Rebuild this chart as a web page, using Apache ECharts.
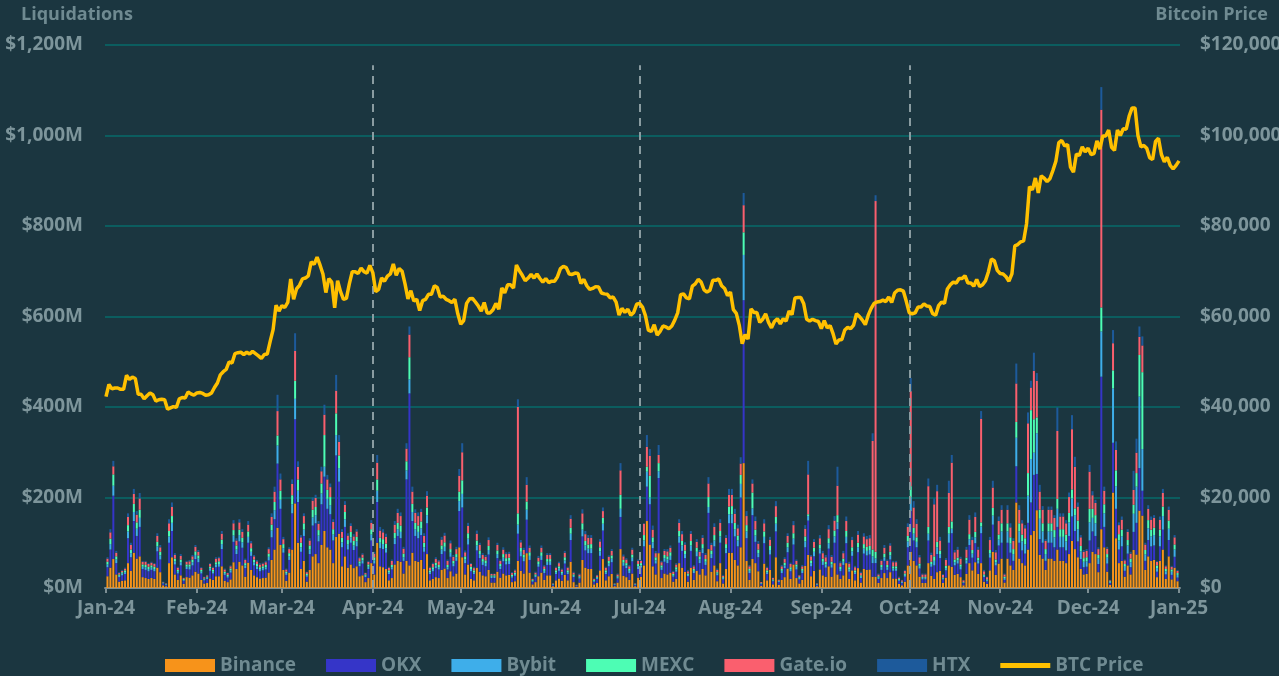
<!DOCTYPE html>
<html><head><meta charset="utf-8">
<script src="https://cdn.jsdelivr.net/npm/echarts@6/dist/echarts.min.js"></script>
<style>html,body{margin:0;padding:0;background:#1b3640;}#c{width:1279px;height:676px;}</style>
</head><body><div id="c"></div>
<script>
const monthNames = ['Jan','Feb','Mar','Apr','May','Jun','Jul','Aug','Sep','Oct','Nov','Dec'];
const seriesNames = ['Binance','OKX','Bybit','MEXC','Gate.io','HTX','BTC Price'];
// daily liquidations, $M, Jan 1 2024 .. Dec 31 2024
const binance = [
26,45,64,30,14,16,17,55,38,78,65,70,24,22,20,22,20,45,35,6,4,55,68,30,18,28,9,24,23,28,36,
32,18,10,11,21,18,26,26,48,16,13,19,57,42,58,50,25,56,40,28,24,21,22,23,34,62,85,133,95,
40,16,34,85,187,100,42,60,14,40,70,75,55,95,126,90,85,55,113,120,48,70,45,52,44,48,26,28,13,22,55,
30,100,48,46,42,17,22,52,60,58,32,60,50,78,60,58,62,42,75,17,20,24,22,40,43,22,37,26,32,90,
68,30,52,20,17,45,36,28,26,40,12,12,36,23,32,28,29,13,15,60,38,32,77,34,8,13,26,34,18,28,28,
4,17,21,16,29,17,58,13,3,12,62,45,42,42,8,11,39,64,17,26,31,4,12,86,27,24,18,32,4,23,
25,50,148,96,48,30,77,22,32,30,34,14,20,55,45,36,14,45,18,38,30,42,28,86,36,50,15,55,10,42,78,
78,62,50,90,276,60,18,64,55,37,5,54,17,40,8,68,7,18,24,43,20,52,22,10,18,49,73,26,38,4,41,
28,25,48,25,55,30,20,28,55,20,39,17,44,12,42,40,41,25,25,11,22,33,22,35,21,21,9,6,14,50,
80,60,50,25,11,11,55,27,20,35,38,11,23,50,47,29,31,24,6,31,55,39,57,31,55,14,9,39,80,29,54,
65,12,65,50,40,189,65,55,50,85,117,126,172,73,65,40,65,65,60,85,60,60,55,75,104,86,68,42,30,31,
55,80,75,35,130,90,36,7,211,110,55,60,25,50,30,84,74,171,160,40,70,60,62,24,60,85,20,70,19,45,15];
const okx = [
20,40,140,25,10,12,14,55,30,70,50,65,18,18,17,18,17,36,28,4,3,45,58,22,14,22,7,18,18,22,28,
25,14,7,9,17,14,20,21,38,13,10,15,45,33,45,39,19,44,31,22,18,16,17,18,27,50,67,142,80,
38,13,28,80,186,90,38,55,11,35,68,68,48,90,120,85,78,50,180,115,42,65,40,48,40,44,22,26,11,20,50,
24,90,40,40,36,14,19,45,55,52,28,180,380,70,55,52,55,38,68,14,17,20,19,35,38,19,32,22,28,80,
110,25,44,17,14,38,30,23,22,34,10,10,30,19,27,24,24,10,12,60,32,27,74,28,6,11,21,28,15,23,23,
3,14,17,13,25,14,48,11,2,9,52,38,35,35,6,9,32,63,14,22,26,3,9,71,22,20,15,27,3,19,
20,42,76,89,40,24,166,18,26,25,28,11,16,45,37,30,12,37,15,32,25,35,23,80,30,42,13,45,9,35,65,
65,52,42,110,360,50,15,97,47,31,4,45,14,34,7,57,6,15,20,36,17,44,19,9,15,41,76,22,32,3,35,
23,20,39,20,45,100,17,23,44,16,32,14,35,10,34,32,33,30,30,9,18,27,18,28,17,17,7,5,11,40,
90,45,40,18,8,8,50,20,30,40,28,8,16,50,74,21,23,17,5,23,40,28,42,23,66,10,6,28,60,21,40,
35,6,35,28,20,80,35,28,26,59,72,124,80,35,35,20,35,35,30,50,30,30,28,40,54,40,35,22,16,16,
50,45,40,18,337,45,18,4,110,65,30,32,13,26,16,40,70,94,55,20,36,32,32,12,32,44,10,36,10,24,8];
const bybit = [
6,12,22,8,3,4,4,15,9,20,16,20,5,6,5,5,5,11,9,1,1,14,18,7,4,7,2,5,6,7,9,
8,4,2,3,5,4,6,6,11,4,3,5,14,10,14,12,6,13,9,7,6,5,5,5,8,15,20,40,20,
10,4,8,20,45,25,10,14,3,10,18,18,13,24,22,22,20,13,45,30,11,17,11,12,10,11,6,7,3,5,13,
7,25,12,11,10,4,5,13,15,14,8,20,31,20,15,14,15,10,18,4,5,6,5,10,10,5,9,6,8,22,
30,8,13,5,4,11,9,7,7,10,3,3,9,6,8,7,7,3,4,20,10,8,22,9,2,3,6,9,5,7,7,
1,4,5,4,7,4,14,3,1,3,15,11,10,10,2,2,10,15,4,6,8,1,3,18,7,6,5,8,1,6,
5,13,33,15,13,7,15,5,8,8,9,3,5,14,12,9,3,12,5,10,8,11,7,13,9,13,4,14,3,11,20,
20,16,13,30,100,15,5,15,14,9,1,14,4,10,2,17,2,5,6,11,5,13,6,3,5,13,10,7,10,1,11,
7,7,12,7,14,15,5,7,14,5,10,4,11,3,11,10,10,15,10,3,6,8,6,9,5,5,2,2,4,13,
30,15,12,6,3,3,15,6,10,15,9,2,5,20,10,7,7,6,1,7,13,9,13,7,15,3,2,9,20,7,13,
25,4,25,20,15,63,25,20,20,60,96,49,90,45,25,15,25,25,22,40,23,23,20,30,40,35,27,17,12,12,
40,30,28,12,100,30,13,2,120,50,20,22,9,18,11,40,80,158,92,14,26,22,23,8,22,30,7,25,7,16,6];
const mexc = [
6,12,25,7,3,3,4,14,8,18,14,18,5,5,5,5,5,10,8,1,1,12,15,6,4,6,2,5,5,6,8,
7,4,2,2,4,4,5,6,10,3,3,4,12,9,12,10,5,12,8,6,5,4,4,5,7,13,18,22,20,
9,3,7,20,40,25,10,14,3,9,17,18,12,22,70,20,18,12,48,28,10,16,10,12,10,10,5,6,3,5,12,
7,25,11,11,10,4,5,12,14,14,8,20,49,18,14,14,15,10,17,4,4,6,5,9,10,5,8,6,7,21,
30,7,12,5,4,11,8,6,6,9,3,3,8,5,8,7,7,3,3,25,9,7,18,8,2,3,6,8,4,6,6,
1,4,5,3,7,4,13,3,0,2,14,10,9,10,2,2,9,13,4,6,7,1,2,31,6,5,4,7,1,5,
5,12,11,48,11,7,18,5,7,7,8,3,5,12,10,8,3,10,4,9,7,9,6,22,8,12,3,12,2,9,17,
18,14,11,20,50,14,4,35,13,8,1,12,4,9,2,15,1,4,6,10,4,12,5,2,4,11,4,6,9,1,9,
7,6,11,6,13,16,5,7,13,5,9,4,10,3,10,9,9,15,15,3,5,8,5,8,5,5,2,1,3,12,
25,13,10,5,2,2,15,5,10,12,8,2,5,15,16,6,6,5,1,6,11,8,12,6,9,3,2,8,17,6,11,
18,3,18,14,11,35,18,15,14,50,108,74,35,20,18,11,18,18,16,22,17,17,15,21,20,15,19,12,8,9,
30,20,18,8,53,20,8,2,40,35,14,15,6,12,8,20,30,92,170,10,18,15,16,6,15,21,5,18,5,11,4];
const gateio = [
7,14,18,8,3,3,4,18,10,22,17,25,6,7,6,6,6,13,10,1,1,17,20,8,5,8,2,6,7,7,10,
8,4,3,3,6,5,8,7,13,5,4,5,15,11,16,13,7,15,11,7,6,6,6,6,10,17,23,54,25,
11,5,9,25,66,28,12,16,4,11,20,20,14,27,45,23,22,16,50,30,13,16,10,13,10,12,7,7,3,6,14,
8,37,16,15,15,6,9,18,22,21,11,28,50,27,22,21,21,15,26,6,7,8,8,13,15,9,13,9,11,35,
62,9,16,6,5,15,12,9,8,13,3,3,12,7,10,9,9,4,5,235,12,10,37,10,2,4,8,10,6,9,9,
1,6,7,5,10,6,20,4,1,4,22,15,15,14,2,4,13,15,6,9,10,1,4,54,8,8,6,11,1,7,
5,25,44,44,17,9,18,7,9,11,10,5,6,18,15,13,5,16,6,13,10,14,9,30,12,18,5,18,3,14,26,
25,20,16,25,60,20,6,20,19,13,2,18,6,14,3,24,2,6,8,15,7,18,8,4,6,17,88,9,13,1,14,
12,10,20,11,22,65,8,12,22,8,16,7,18,5,17,17,17,240,775,4,9,13,9,14,9,9,3,3,6,20,
210,45,30,14,6,6,90,15,115,112,22,6,13,75,130,16,18,13,4,18,32,22,33,18,229,7,5,22,45,16,30,
30,5,30,22,18,85,30,25,22,110,50,107,81,40,30,18,30,30,27,150,28,28,25,35,133,92,31,19,14,14,
82,30,27,13,437,30,12,2,60,45,20,22,8,18,11,33,45,40,59,12,25,22,22,8,22,30,6,24,6,16,5];
const htx = [
3,7,12,4,2,2,2,8,5,11,8,12,2,2,2,2,2,6,5,1,0,9,10,4,2,4,1,2,3,3,4,
4,2,1,1,2,2,3,3,6,2,1,2,7,5,7,6,3,8,5,3,3,3,2,3,4,8,11,36,13,
5,2,4,10,39,12,5,6,1,5,7,7,6,10,22,10,8,6,35,15,6,8,5,6,5,5,3,3,1,2,6,
4,17,8,7,7,2,3,8,9,8,4,12,18,11,8,8,7,6,10,2,3,4,3,6,6,3,6,4,5,15,
20,4,7,2,3,7,5,4,4,6,1,1,5,3,5,4,4,2,2,17,5,5,17,5,1,2,4,5,3,4,4,
0,2,3,2,4,2,8,2,0,2,9,7,6,6,1,1,5,8,2,3,4,0,2,16,4,3,3,4,0,3,
2,1,26,15,9,5,22,3,4,5,5,2,3,8,7,5,3,6,3,6,4,6,4,14,5,8,3,8,2,6,13,
13,11,8,14,27,11,3,9,10,6,0,9,2,6,1,11,1,3,4,6,3,9,3,1,3,8,30,3,6,0,7,
5,5,9,4,10,42,4,5,10,4,7,3,8,3,7,7,7,17,13,2,3,6,3,5,3,3,2,1,2,8,
29,14,10,5,2,2,17,5,13,14,8,2,4,27,17,5,6,4,1,6,10,7,10,6,17,3,1,7,15,5,10,
10,2,10,9,6,44,10,7,7,24,15,40,17,15,8,4,7,7,6,52,7,7,7,10,31,22,9,5,4,4,
15,9,7,4,50,9,4,1,29,19,6,7,2,6,4,42,31,23,20,4,8,7,6,2,7,9,2,7,2,5,2];
// BTC daily price, $, Jan 1 2024 .. Jan 1 2025
const btcPrice = [
42300,45000,44000,44200,44200,43900,43900,47000,46100,46600,46300,42800,42800,41800,42500,43100,42700,41300,41600,41700,41600,39500,39800,40100,39900,41800,42100,42000,43300,42900,42600,
43100,43200,43000,42600,42700,43100,44300,45300,47100,47800,48300,50000,49700,51800,52000,52100,51600,52100,51700,52300,51800,51300,50700,51600,51700,54500,57100,62500,61200,
62400,62000,63100,68300,63800,66100,66900,68300,68500,69000,72100,71500,73100,71400,69400,65300,68400,67600,61900,67900,65500,63800,64000,67200,69900,69900,69500,70700,69900,69600,71300,
69700,65500,66000,68500,67800,68900,69400,71600,69100,70600,70000,67200,63900,65700,63400,63800,61300,63500,63800,64900,64900,66800,66400,64300,64500,63800,63500,63100,63800,60600,
58300,59100,62900,63900,64000,63200,62300,61200,63100,60800,60800,61500,62900,61600,66300,65200,67000,67000,66300,71400,70100,69100,67900,68500,69300,68500,69400,68400,67600,68400,67500,
67800,67800,68800,70600,71100,70800,69400,69300,69600,69500,67300,68200,66800,66000,66200,66600,66500,65200,65000,64900,64100,64300,63200,60300,61800,60900,61600,60300,60900,62700,
62900,62100,60200,57000,56700,58200,55900,56700,57900,57700,57300,57900,59200,60800,64800,65000,64100,63900,66700,67200,68200,67600,65900,65400,65800,68000,68000,68300,66800,66200,64600,
65400,61500,60700,58100,54000,56000,55000,61700,60900,60900,58700,59400,60600,58700,57500,58900,59500,58400,59500,59000,61200,60400,64100,64200,64200,62800,59400,59000,59400,59100,58900,
57300,59100,57500,58000,56200,53900,54800,54900,57000,57600,57300,58100,60600,60000,59200,58200,60300,61800,62900,63200,63300,63600,63300,64300,63100,65200,65800,65900,65600,63300,
60800,60600,60800,62100,62100,62800,62300,62200,60600,60300,62400,63200,62900,66100,67000,67600,67400,68400,68400,69000,67400,67400,66700,68200,66600,67000,67900,69900,72700,72300,70200,
69500,69400,68800,67800,69400,75600,75900,76500,76700,80500,88700,88000,90600,87300,91100,90600,89800,90500,92300,94300,98400,98900,97700,98000,93000,91900,95900,95600,97500,96400,
97200,95800,96000,98800,97000,99900,99900,101200,97400,96700,101200,100000,101500,101400,104300,106100,106100,100000,97500,97800,97200,95100,94700,98700,99400,95800,94200,95200,93400,92600,93400,
94400];
const quarterStarts = ['2024-04-01','2024-07-01','2024-10-01'];
const leftTicks = {min:0, max:1200, interval:200};
const rightTicks = {min:0, max:120000, interval:20000};

const DAY = 86400000;
const days = [];
for (let i = 0; i < btcPrice.length; i++) days.push(new Date(2024, 0, 1 + i).getTime());
const qTimes = quarterStarts.map(s => { const p = s.split('-'); return new Date(+p[0], +p[1]-1, +p[2]).getTime(); });

const FONT = 'Open Sans';
const txt = '#7d959b';
const colors = ['#f7931a','#3535c8','#3eaeea','#4dfdb4','#fa5f6e','#1d5a9b','#ffc000'];
const barArrays = [binance, okx, bybit, mexc, gateio, htx];

const series = barArrays.map((arr, k) => ({
  name: seriesNames[k], type: 'bar', stack: 'liq', barWidth: 2,
  itemStyle: {color: colors[k]}, emphasis: {disabled: true},
  data: arr.map((v, i) => [days[i] + DAY/2, v]),
  markLine: k === 0 ? {
    silent: true, symbol: ['none','none'], label: {show: false},
    lineStyle: {color: '#8a9ca1', type: [8, 6], width: 2},
    data: qTimes.map(t => [{coord: [t, 0]}, {coord: [t, 1155]}])
  } : undefined
}));
series.push({
  name: seriesNames[6], type: 'line', yAxisIndex: 1, symbol: 'none', showSymbol: false,
  lineStyle: {color: colors[6], width: 3.5}, itemStyle: {color: colors[6]}, z: 5,
  data: btcPrice.map((v, i) => [days[i], v])
});

const chart = echarts.init(document.getElementById('c'));
chart.setOption({
  animation: false,
  backgroundColor: '#1b3640',
  textStyle: {fontFamily: FONT},
  title: [
    {text: 'Liquidations', left: 16, top: 1, textStyle: {color: '#6f8a91', fontSize: 18, fontWeight: 'bold', fontFamily: FONT}},
    {text: 'Bitcoin Price', right: 6, top: 1, textStyle: {color: '#6f8a91', fontSize: 18, fontWeight: 'bold', fontFamily: FONT}}
  ],
  grid: {left: 105, right: 99, top: 45, bottom: 88, containLabel: false, outerBoundsMode: 'none'},
  legend: {
    top: 651, left: 160, itemWidth: 50, itemHeight: 13, itemGap: 30,
    textStyle: {color: '#6f8a91', fontSize: 19, fontWeight: 'bold', fontFamily: FONT},
    data: seriesNames.map((n, k) => k < 6 ? {name: n, icon: 'rect'} :
      {name: n, icon: 'path://M0,0 L50,0 L50,5 L0,5 Z', itemStyle: {color: colors[6]}})
  },
  xAxis: {
    type: 'time', min: days[0], max: days[days.length-1], splitNumber: 12,
    axisLine: {lineStyle: {color: '#7d8f94', width: 2}},
    axisTick: {show: true, length: 5, lineStyle: {color: '#7d8f94', width: 2}},
    splitLine: {show: false},
    axisLabel: {color: txt, fontSize: 19, fontWeight: 'bold', fontFamily: FONT, margin: 11, hideOverlap: false,
      formatter: v => { const d = new Date(v); return monthNames[d.getMonth()] + '-' + String(d.getFullYear()).slice(2); }}
  },
  yAxis: [
    {type: 'value', min: leftTicks.min, max: leftTicks.max, interval: leftTicks.interval,
      axisLine: {show: false}, axisTick: {show: false},
      splitLine: {lineStyle: {color: '#0b5d5f', width: 2}},
      axisLabel: {color: txt, fontSize: 19, fontWeight: 'bold', fontFamily: FONT, margin: 22,
        formatter: v => '$' + v.toLocaleString('en-US') + 'M'}},
    {type: 'value', position: 'right', min: rightTicks.min, max: rightTicks.max, interval: rightTicks.interval,
      axisLine: {show: false}, axisTick: {show: false}, splitLine: {show: false},
      axisLabel: {color: txt, fontSize: 19, fontWeight: 'bold', fontFamily: FONT, margin: 20,
        formatter: v => '$' + v.toLocaleString('en-US')}}
  ],
  series: series
});
</script></body></html>
